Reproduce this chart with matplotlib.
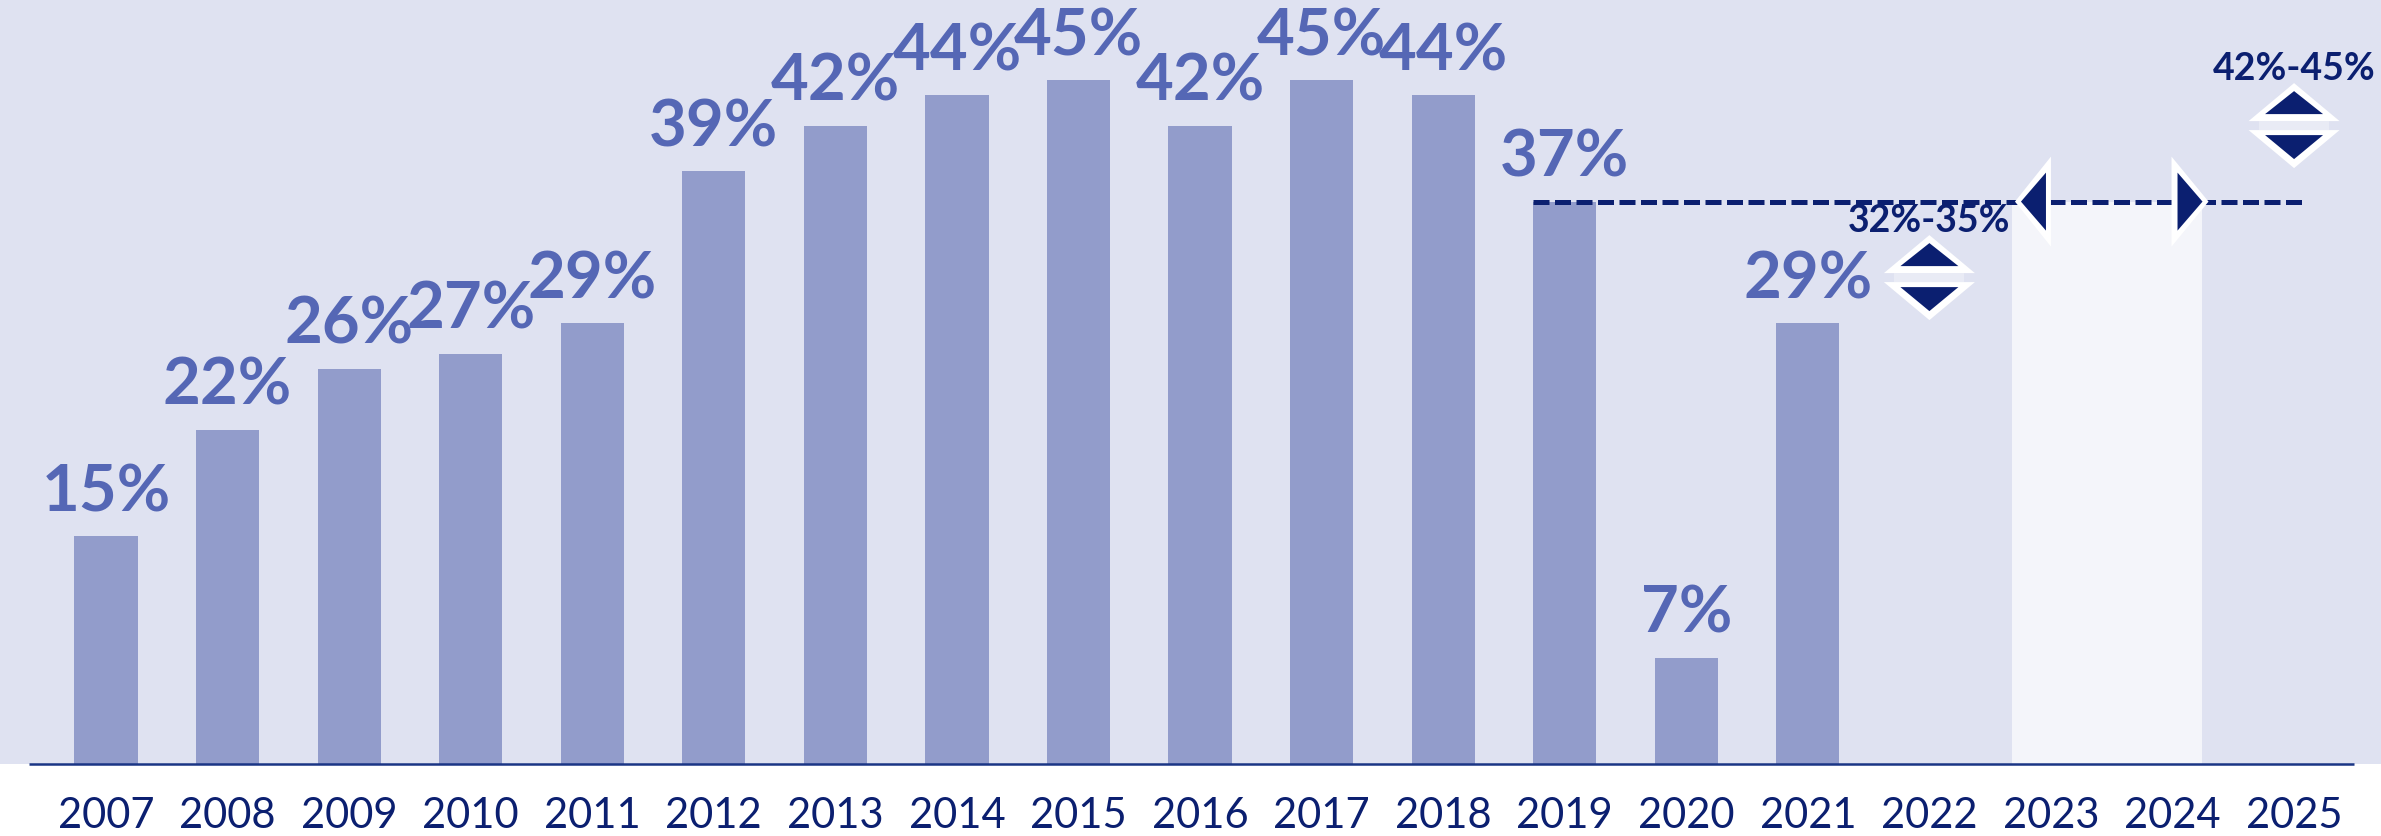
import matplotlib
matplotlib.use("Agg")
import matplotlib.pyplot as plt
import matplotlib.transforms as mtransforms
from matplotlib.patches import Polygon, Rectangle

# ── Data ──────────────────────────────────────────────────────────────────────
YEARS = [str(y) for y in range(2007, 2026)]
ACTUAL_YEARS = YEARS[:15]                      # 2007 – 2021
ACTUAL_SHARE = [15, 22, 26, 27, 29, 39, 42, 44, 45, 42, 45, 44, 37, 7, 29]

RANGE_YEARS = ["2022", "2025"]
RANGE_LOW = [32, 42]
RANGE_HIGH = [35, 45]

FLAT_YEARS = ["2023", "2024"]
FLAT_LEVEL = 37                                # level of 2019

# ── Style ─────────────────────────────────────────────────────────────────────
BG = "#DFE2F1"
BAR = "#929CCB"
LABEL = "#5567B5"
NAVY = "#0B1F70"
HILITE = "#F4F5FA"
BAND = "#E9EBF5"
AXIS = "#1A3585"
FONT = ["Lato", "DejaVu Sans"]

DPI = 100
W, H = 2381, 836
PX_X = 121.56          # pixels per category
PX_Y = 15.2            # pixels per percentage point
X0, Y0 = 106, 764      # pixel position of first category / zero line

fig = plt.figure(figsize=(W / DPI, H / DPI), dpi=DPI, facecolor="white")
ax = fig.add_axes([0, 0, 1, 1])
ax.set_xlim(-X0 / PX_X, (W - X0) / PX_X)
ax.set_ylim(-(H - Y0) / PX_Y, Y0 / PX_Y)
ax.set_axis_off()

idx = {y: i for i, y in enumerate(YEARS)}


def px_trans(x, y):
    """Transform: vertices in pixels, anchored at data point (x, y)."""
    return (mtransforms.Affine2D().scale(1 / DPI) + fig.dpi_scale_trans
            + mtransforms.ScaledTranslation(x, y, ax.transData))


def poly(x, y, verts, color, z):
    ax.add_patch(Polygon(verts, closed=True, facecolor=color, edgecolor="none",
                         transform=px_trans(x, y), zorder=z))


# background panel
ax.axhspan(0, Y0 / PX_Y, color=BG, zorder=0, lw=0)

# highlighted flat period
f0, f1 = idx[FLAT_YEARS[0]], idx[FLAT_YEARS[-1]]
ax.add_patch(Rectangle((f0 - 0.32, 0), (f1 + 0.24) - (f0 - 0.32), FLAT_LEVEL,
                       facecolor=HILITE, edgecolor="none", zorder=1))

# bars + value labels
BW = 0.52
xs = [idx[y] for y in ACTUAL_YEARS]
ax.bar(xs, ACTUAL_SHARE, width=BW, color=BAR, zorder=2, lw=0)
for x, v in zip(xs, ACTUAL_SHARE):
    ax.annotate(f"{v}%", (x, v), xytext=(0, 18), textcoords="offset points",
                ha="center", va="baseline", fontsize=47, fontweight="bold",
                family=FONT, color=LABEL, zorder=5)

# baseline
ax.plot([-0.63, 18.49], [0, 0], color=AXIS, lw=1.8, zorder=3,
        solid_capstyle="butt")

# dashed reference line from 2019
x_start = idx["2019"] - BW / 2
ax.plot([x_start, idx[YEARS[-1]] + 0.11], [FLAT_LEVEL, FLAT_LEVEL],
        color=NAVY, lw=3.6, dashes=(3.2, 1.1), zorder=4)

# horizontal arrows around the flat period
poly(f0, FLAT_LEVEL, [(0, 45), (0, -45), (-36, 0)], "white", 6)
poly(f0, FLAT_LEVEL, [(-5, 29), (-5, -29), (-30, 0)], NAVY, 7)
poly(f1, FLAT_LEVEL, [(-1, 45), (-1, -45), (36, 0)], "white", 6)
poly(f1, FLAT_LEVEL, [(5, 29), (5, -29), (30, 0)], NAVY, 7)

# range markers (up/down arrows) with range label
for y, lo, hi in zip(RANGE_YEARS, RANGE_LOW, RANGE_HIGH):
    x = idx[y]
    poly(x, lo, [(-45.5, 4.5), (45.5, 4.5), (0, 42.5)], "white", 6)
    poly(x, lo, [(-29, 11.5), (29, 11.5), (0, 34.5)], NAVY, 7)
    poly(x, lo, [(-35, -4.5), (35, -4.5), (35, 4.5), (-35, 4.5)], BAND, 6)
    poly(x, lo, [(-45.5, -4.5), (45.5, -4.5), (0, -42.5)], "white", 6)
    poly(x, lo, [(-29, -9.5), (29, -9.5), (0, -33.5)], NAVY, 7)
    ax.text(x, hi, f"{lo}%-{hi}%", ha="center", va="baseline", fontsize=27,
            fontweight="bold", family=FONT, color=NAVY, zorder=8)

# year labels
for i, y in enumerate(YEARS):
    ax.text(i, -64 / PX_Y, y, ha="center", va="baseline", fontsize=30,
            fontweight="normal", family=FONT, color=NAVY)

fig.savefig("out.png", dpi=DPI, facecolor="white")
